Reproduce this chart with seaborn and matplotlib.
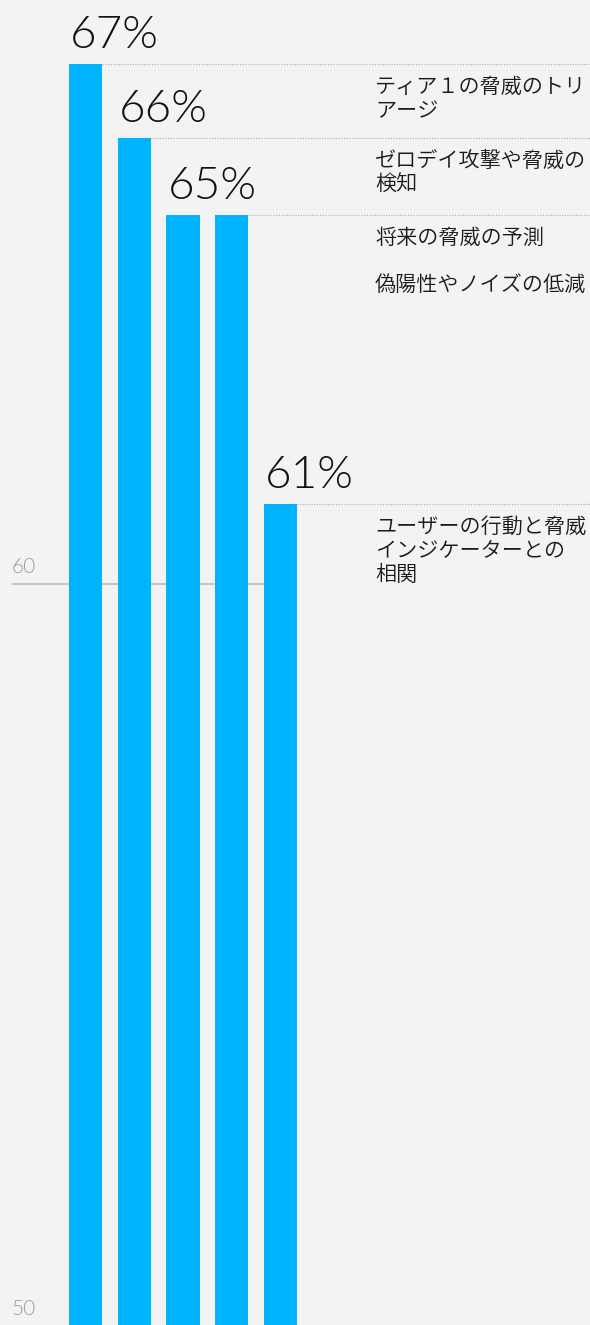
import matplotlib
matplotlib.use("Agg")
import matplotlib.pyplot as plt
import matplotlib.transforms as mtransforms
import seaborn as sns
import pandas as pd

# ---- data ----
categories = [
    "ティア１の脅威のトリ\nアージ",
    "ゼロデイ攻撃や脅威の\n検知",
    "将来の脅威の予測",
    "偽陽性やノイズの低減",
    "ユーザーの行動と脅威\nインジケーターとの\n相関",
]
values = [67.0, 66.0, 64.97, 64.97, 61.08]
value_labels = ["67%", "66%", "65%", "", "61%"]
y_ticks = [50, 60]

BAR = "#00b4ff"
BG = "#f3f3f3"

sns.set_theme(style="white")
plt.rcParams["font.family"] = ["Noto Sans CJK JP", "DejaVu Sans"]

fig = plt.figure(figsize=(5.9, 13.25), dpi=100, facecolor=BG)
ax = fig.add_axes([0, 0, 1, 1])
ax.set_facecolor(BG)

df = pd.DataFrame({"cat": categories, "value": values})
sns.barplot(data=df, x="cat", y="value", color=BAR, saturation=1,
            width=0.677, ax=ax, zorder=3, linewidth=0, edgecolor=BAR)

ax.set_xlim(-1.754, 10.349)
ax.set_ylim(50.02, 67.861)
for s in ax.spines.values():
    s.set_visible(False)
ax.set_xticks([])
ax.set_yticks([])
ax.set_xlabel("")
ax.set_ylabel("")

# gridline & tick labels
ax.axhline(60, xmin=12 / 590, xmax=266 / 590, color="#c2c2c2", lw=1.3, zorder=1)
blend = mtransforms.blended_transform_factory(ax.transAxes, ax.transData)
for t in y_ticks:
    ax.annotate(str(t), xy=(12 / 590, t), xycoords=blend, xytext=(0, 7),
                textcoords="offset pixels", ha="left", va="bottom",
                fontsize=15, color="#9c9c9c", family="Lato", fontweight=300)

patches = list(ax.patches)
x_right = ax.get_xlim()[1]

# group bars of equal value
seen = {}
for i, v in enumerate(values):
    seen.setdefault(v, []).append(i)

for v, idxs in seen.items():
    first = patches[idxs[0]]
    last = patches[idxs[-1]]
    # dotted guide line
    ax.plot([last.get_x() + last.get_width(), x_right], [v, v],
            ls=(0, (1, 1.2)), color="#b5b5b5", lw=0.9, zorder=2)
    # value label
    lab = value_labels[idxs[0]]
    ax.annotate(lab, xy=(first.get_x(), v), xytext=(1, 16),
                textcoords="offset pixels", ha="left", va="baseline",
                fontsize=33, color="#111111", family="Lato", fontweight=300)
    # category labels
    for k, i in enumerate(idxs):
        ax.annotate(categories[i], xy=(375 / 590, v), xycoords=blend,
                    xytext=(0, -12 - 47 * k), textcoords="offset pixels",
                    ha="left", va="top", fontsize=15.2, color="#1a1a1a",
                    fontweight=350, linespacing=1.12)

fig.savefig("out.png", dpi=100, facecolor=BG)
